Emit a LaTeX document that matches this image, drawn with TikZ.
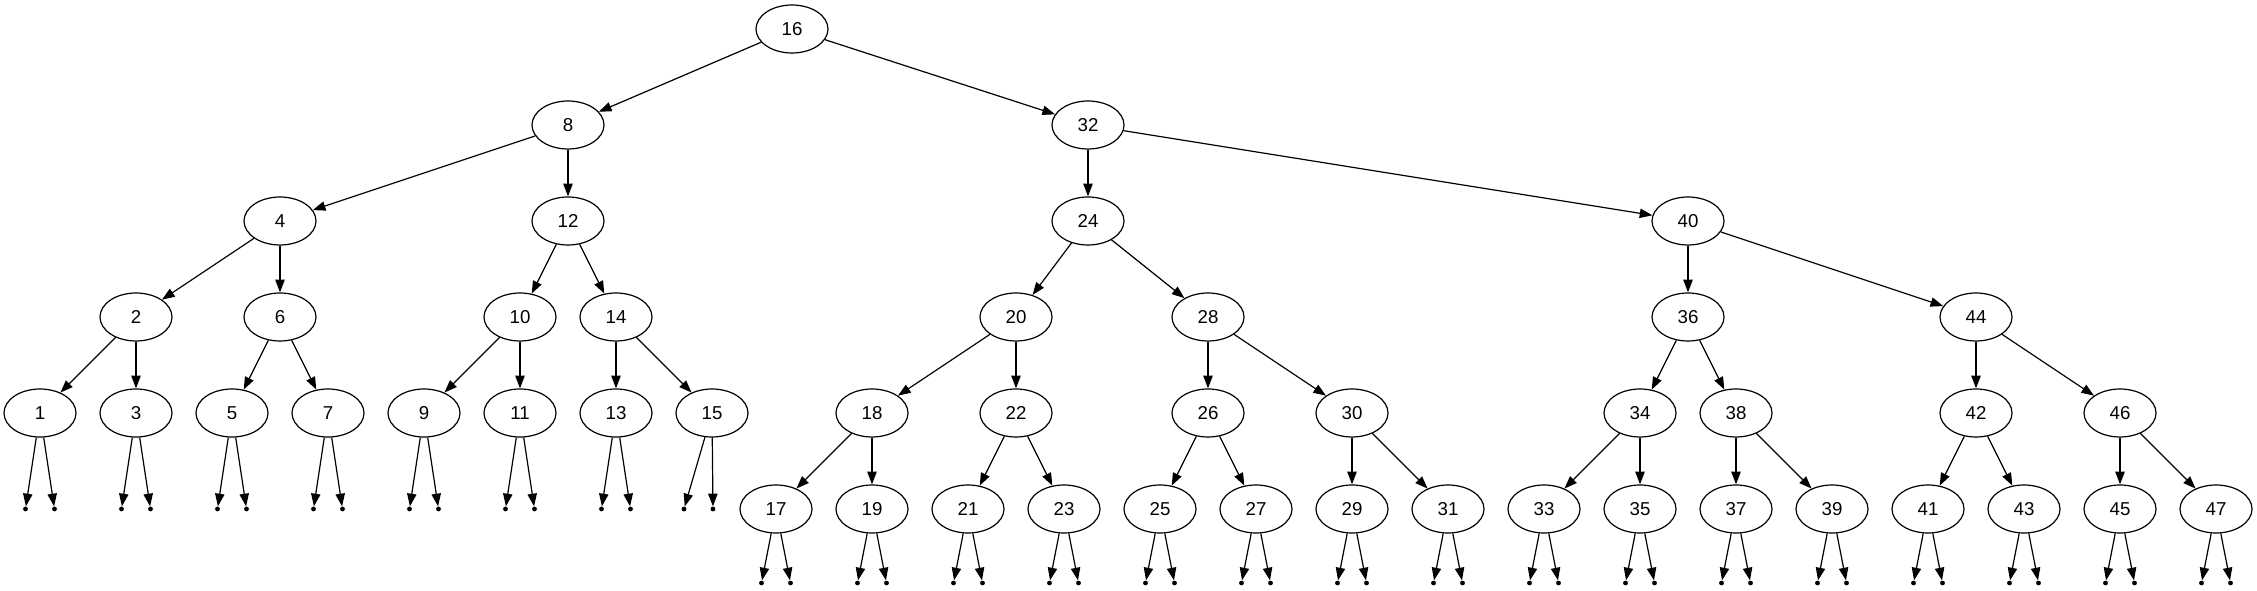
\documentclass[tikz,border=0pt]{standalone}
\usepackage{fontspec}
\setmainfont{Liberation Sans}
\usetikzlibrary{arrows.meta,shapes.geometric}
\begin{document}
\begin{tikzpicture}[x=0.75pt,y=-0.75pt,
  tn/.style={draw, ellipse, minimum width=54pt, minimum height=36pt, inner sep=0pt, line width=0.9pt, font=\fontsize{14}{16}\selectfont},
  pt/.style={circle, fill, minimum size=3.6pt, inner sep=0pt},
  ed/.style={-{Triangle[length=9.5pt,width=7pt]}, line width=0.9pt}]
\useasboundingbox (0,0) rectangle (2257,591);
% tree nodes
\foreach \n/\x/\y in {16/792/29,
  8/568/125, 32/1088/125,
  4/280/221, 12/568/221, 24/1088/221, 40/1688/221,
  2/136/317, 6/280/317, 10/520/317, 14/616/317, 20/1016/317, 28/1208/317, 36/1688/317, 44/1976/317,
  1/40/413, 3/136/413, 5/232/413, 7/328/413, 9/424/413, 11/520/413, 13/616/413, 15/712/413,
  18/872/413, 22/1016/413, 26/1208/413, 30/1352/413, 34/1640/413, 38/1736/413, 42/1976/413, 46/2120/413,
  17/776/509, 19/872/509, 21/968/509, 23/1064/509, 25/1160/509, 27/1256/509, 29/1352/509, 31/1448/509,
  33/1544/509, 35/1640/509, 37/1736/509, 39/1832/509, 41/1928/509, 43/2024/509, 45/2120/509, 47/2216/509}
  \node[tn] (n\n) at (\x,\y) {\n};
% tree edges
\foreach \a/\b in {16/8,16/32, 8/4,8/12, 4/2,4/6, 2/1,2/3, 6/5,6/7, 12/10,12/14, 10/9,10/11, 14/13,14/15,
  32/24,32/40, 24/20,24/28, 20/18,20/22, 18/17,18/19, 22/21,22/23, 28/26,28/30, 26/25,26/27, 30/29,30/31,
  40/36,40/44, 36/34,36/38, 34/33,34/35, 38/37,38/39, 44/42,44/46, 42/41,42/43, 46/45,46/47}
  \draw[ed] (n\a) -- (n\b);
% null points under rank-4 leaves
\foreach \n/\x in {1/40, 3/136, 5/232, 7/328, 9/424, 11/520, 13/616}{
  \node[pt] (p\n-a) at (\x-14.5,509) {};
  \node[pt] (p\n-b) at (\x+14.5,509) {};
  \draw[ed] (n\n) -- (p\n-a);
  \draw[ed] (n\n) -- (p\n-b);
}
\node[pt] (p15-a) at (684,509) {};
\node[pt] (p15-b) at (713,509) {};
\draw[ed] (n15) -- (p15-a);
\draw[ed] (n15) -- (p15-b);
% null points under rank-5 leaves
\foreach \n/\x in {17/776, 19/872, 21/968, 23/1064, 25/1160, 27/1256, 29/1352, 31/1448,
  33/1544, 35/1640, 37/1736, 39/1832, 41/1928, 43/2024, 45/2120, 47/2216}{
  \node[pt] (p\n-a) at (\x-14.5,583) {};
  \node[pt] (p\n-b) at (\x+14.5,583) {};
  \draw[ed] (n\n) -- (p\n-a);
  \draw[ed] (n\n) -- (p\n-b);
}
\end{tikzpicture}
\end{document}
